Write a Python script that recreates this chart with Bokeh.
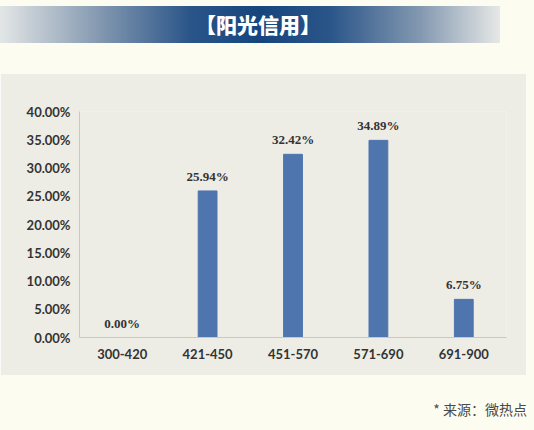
from bokeh.plotting import figure
from bokeh.models import Div, ColumnDataSource, LabelSet, NumeralTickFormatter, Range1d, FixedTicker
from bokeh.layouts import column, row
from bokeh.embed import file_html
from bokeh.resources import INLINE

# score bands and share of users in each band
bands = ["300-420", "421-450", "451-570", "571-690", "691-900"]
shares = [0.0, 0.2594, 0.3242, 0.3489, 0.0675]
share_labels = ["0.00%", "25.94%", "32.42%", "34.89%", "6.75%"]
y_ticks = [0.0, 0.05, 0.10, 0.15, 0.20, 0.25, 0.30, 0.35, 0.40]

title_text = "【阳光信用】"
source_text = "* 来源：微热点"

cream = "#FDFCF1"
panel = "#EDECE5"
bar_color = "#4E75AE"

banner = Div(
    text='<div style="margin-top:6px;width:500px;height:37px;'
         'background:linear-gradient(to right,#e3e6e6 0%,#8398b0 20%,#2a5589 38%,#16457e 52%,#2a5589 66%,#8398b0 84%,#e6e8e6 100%);'
         'color:white;font-family:\'Noto Sans CJK SC\';font-weight:900;font-size:21px;'
         'text-align:center;line-height:37px;padding-left:16px;box-sizing:border-box;">' + title_text + '</div>',
    width=534, height=73, margin=0,
    styles={"background-color": cream},
)

src = ColumnDataSource(dict(band=bands, share=shares, label=share_labels))

p = figure(x_range=bands, y_range=Range1d(0, 0.40), width=526, height=302,
           output_backend="svg", toolbar_location=None,
           min_border_left=79, min_border_right=20, min_border_top=38, min_border_bottom=38,
           background_fill_color=panel, border_fill_color=panel, outline_line_color=None)

p.vbar(x="band", top="share", width=0.22, source=src, color=bar_color)

labels = LabelSet(x="band", y="share", text="label", source=src, text_align="center",
                  text_baseline="bottom", y_offset=7, text_font_size="13px",
                  text_font="Lato", text_font_style="bold", text_color="#333333")
p.add_layout(labels)

p.yaxis.ticker = FixedTicker(ticks=y_ticks)
p.yaxis.formatter = NumeralTickFormatter(format="0.00%")
for ax in (p.xaxis, p.yaxis):
    ax.axis_line_color = "#C8C8C4"
    ax.major_tick_line_color = None
    ax.minor_tick_line_color = None
    ax.major_label_text_font = "Lato"
    ax.major_label_text_font_style = "bold"
    ax.major_label_text_font_size = "13px"
    ax.major_label_text_color = "#333333"
p.yaxis.major_label_standoff = 3
p.xaxis.major_label_standoff = 5
p.xgrid.grid_line_color = None
p.ygrid.grid_line_color = None

right_strip = Div(text="", width=8, height=302, margin=0, styles={"background-color": cream})

footer = Div(
    text='<div style="width:527px;text-align:right;padding-top:26px;font-family:\'Noto Sans CJK SC\';'
         'font-size:14px;line-height:16px;color:#4a4a4a;">' + source_text + '</div>',
    width=534, height=55, margin=0,
    styles={"background-color": cream},
)

layout = column(banner, row(p, right_strip, spacing=0), footer, spacing=0)

open("out.html", "w").write(file_html(layout, INLINE))
